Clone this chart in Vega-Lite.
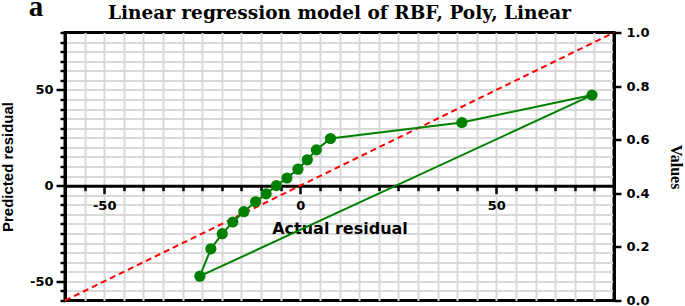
{
  "$schema": "https://vega.github.io/schema/vega-lite/v6.json",
  "width": 549,
  "height": 268,
  "autosize": {"type": "none"},
  "padding": {"left": 65, "top": 32.5, "right": 71, "bottom": 5.5},
  "background": "white",
  "config": {
    "view": {"stroke": "black", "strokeWidth": 3},
    "axis": {"labelColor": "black", "titleColor": "black", "tickColor": "black", "domainColor": "black"}
  },
  "title": {
    "text": "Linear regression model of RBF, Poly, Linear",
    "font": "DejaVu Serif",
    "fontSize": 18.5,
    "fontWeight": "bold",
    "color": "black",
    "anchor": "middle",
    "frame": "group",
    "baseline": "alphabetic",
    "offset": -45
  },
  "datasets": {
    "pts": [
      {"order": 1, "x": -25.6, "y": -47.3},
      {"order": 2, "x": -22.8, "y": -33.0},
      {"order": 3, "x": -19.9, "y": -25.1},
      {"order": 4, "x": -17.2, "y": -19.0},
      {"order": 5, "x": -14.4, "y": -13.6},
      {"order": 6, "x": -11.4, "y": -8.4},
      {"order": 7, "x": -8.7, "y": -4.3},
      {"order": 8, "x": -6.1, "y": 0.0},
      {"order": 9, "x": -3.4, "y": 4.0},
      {"order": 10, "x": -0.6, "y": 8.6},
      {"order": 11, "x": 1.8, "y": 13.5},
      {"order": 12, "x": 4.1, "y": 18.7},
      {"order": 13, "x": 7.7, "y": 24.6},
      {"order": 14, "x": 41.2, "y": 33.0},
      {"order": 15, "x": 74.4, "y": 47.3},
      {"order": 16, "x": -25.6, "y": -47.3}
    ],
    "diag": [{"x": -60, "y": -60}, {"x": 80, "y": 80}],
    "right": [{"v": 0}, {"v": 1}]
  },
  "layer": [
    {
      "data": {"name": "pts"},
      "mark": {"type": "point", "opacity": 0},
      "encoding": {
        "x": {
          "field": "x", "type": "quantitative",
          "scale": {"domain": [-60, 80], "nice": false, "zero": false},
          "axis": {"orient": "bottom", "grid": true, "ticks": false, "labels": false, "domain": false, "title": null,
            "values": [-55,-50,-45,-40,-35,-30,-25,-20,-15,-10,-5,0,5,10,15,20,25,30,35,40,45,50,55,60,65,70,75],
            "gridColor": "#d9d9d9", "gridWidth": 2}
        },
        "y": {
          "field": "y", "type": "quantitative",
          "scale": {"domain": [-60, 80], "nice": false, "zero": false},
          "axis": {"orient": "left", "grid": true, "ticks": false, "labels": false, "domain": false, "title": null,
            "values": [-55,-50,-45,-40,-35,-30,-25,-20,-15,-10,-5,0,5,10,15,20,25,30,35,40,45,50,55,60,65,70,75],
            "gridColor": "#d9d9d9", "gridWidth": 2}
        }
      }
    },
    {
      "data": {"name": "diag"},
      "mark": {"type": "line", "color": "#ff0000", "strokeWidth": 2, "strokeDash": [6, 4]},
      "encoding": {
        "x": {
          "field": "x", "type": "quantitative",
          "scale": {"domain": [-60, 80], "nice": false, "zero": false},
          "axis": {
            "orient": "bottom", "offset": -114.86, "grid": false,
            "values": [-60,-55,-50,-45,-40,-35,-30,-25,-20,-15,-10,-5,0,5,10,15,20,25,30,35,40,45,50,55,60,65,70,75,80],
            "tickSize": {"condition": {"test": "datum.value % 50 === 0", "value": 8}, "value": 5},
            "tickWidth": 2.5,
            "domainWidth": 3,
            "labelExpr": "datum.value % 50 === 0 ? '' + datum.value : ''",
            "labelFont": "DejaVu Sans", "labelFontSize": 13, "labelFontWeight": "bold",
            "labelPadding": 6, "labelFlush": false,
            "title": "Actual residual", "titleFont": "DejaVu Sans", "titleFontSize": 16, "titleFontWeight": "bold",
            "titlePadding": 8
          }
        },
        "y": {
          "field": "y", "type": "quantitative",
          "scale": {"domain": [-60, 80], "nice": false, "zero": false},
          "axis": {
            "orient": "left", "grid": false,
            "values": [-60,-55,-50,-45,-40,-35,-30,-25,-20,-15,-10,-5,0,5,10,15,20,25,30,35,40,45,50,55,60,65,70,75,80],
            "tickSize": {"condition": {"test": "datum.value % 50 === 0", "value": 9}, "value": 5},
            "tickWidth": 2.5,
            "domainWidth": 3,
            "labelExpr": "datum.value % 50 === 0 ? '' + datum.value : ''",
            "labelFont": "DejaVu Sans", "labelFontSize": 13, "labelFontWeight": "bold",
            "labelPadding": 3,
            "title": "Predicted residual", "titleFont": "Liberation Sans", "titleFontSize": 15, "titleFontWeight": "bold",
            "titlePadding": 14
          }
        }
      }
    },
    {
      "data": {"name": "pts"},
      "mark": {"type": "line", "color": "#008000", "strokeWidth": 2},
      "encoding": {
        "x": {"field": "x", "type": "quantitative", "scale": {"domain": [-60, 80], "nice": false, "zero": false}, "axis": null},
        "y": {"field": "y", "type": "quantitative", "scale": {"domain": [-60, 80], "nice": false, "zero": false}, "axis": null},
        "order": {"field": "order", "type": "quantitative"}
      }
    },
    {
      "data": {"name": "pts"},
      "transform": [{"filter": "datum.order <= 15"}],
      "mark": {"type": "circle", "color": "#008000", "size": 125, "opacity": 1},
      "encoding": {
        "x": {"field": "x", "type": "quantitative", "scale": {"domain": [-60, 80], "nice": false, "zero": false}, "axis": null},
        "y": {"field": "y", "type": "quantitative", "scale": {"domain": [-60, 80], "nice": false, "zero": false}, "axis": null}
      }
    },
    {
      "data": {"values": [{}]},
      "mark": {"type": "text", "text": "a", "font": "Liberation Serif", "fontSize": 29, "fontWeight": "bold", "align": "center", "baseline": "alphabetic", "color": "black"},
      "encoding": {
        "x": {"datum": -67.4, "type": "quantitative", "scale": {"domain": [-60, 80], "nice": false, "zero": false}, "axis": null},
        "y": {"datum": 88.8, "type": "quantitative", "scale": {"domain": [-60, 80], "nice": false, "zero": false}, "axis": null}
      }
    },
    {
      "data": {"name": "right"},
      "mark": {"type": "point", "opacity": 0},
      "encoding": {
        "y": {
          "field": "v", "type": "quantitative",
          "scale": {"domain": [0, 1], "nice": false, "zero": false},
          "axis": {
            "orient": "right", "grid": false,
            "values": [0, 0.2, 0.4, 0.6, 0.8, 1],
            "format": ".1f",
            "tickSize": 7, "tickWidth": 2.5, "domainWidth": 3,
            "labelFont": "DejaVu Sans", "labelFontSize": 13, "labelFontWeight": "bold",
            "labelPadding": 5,
            "title": "Values", "titleAngle": 90, "titleFont": "Liberation Serif", "titleFontSize": 16, "titleFontWeight": "bold",
            "titlePadding": 18
          }
        }
      }
    }
  ],
  "resolve": {"scale": {"y": "independent"}, "axis": {"x": "independent", "y": "independent"}}
}
